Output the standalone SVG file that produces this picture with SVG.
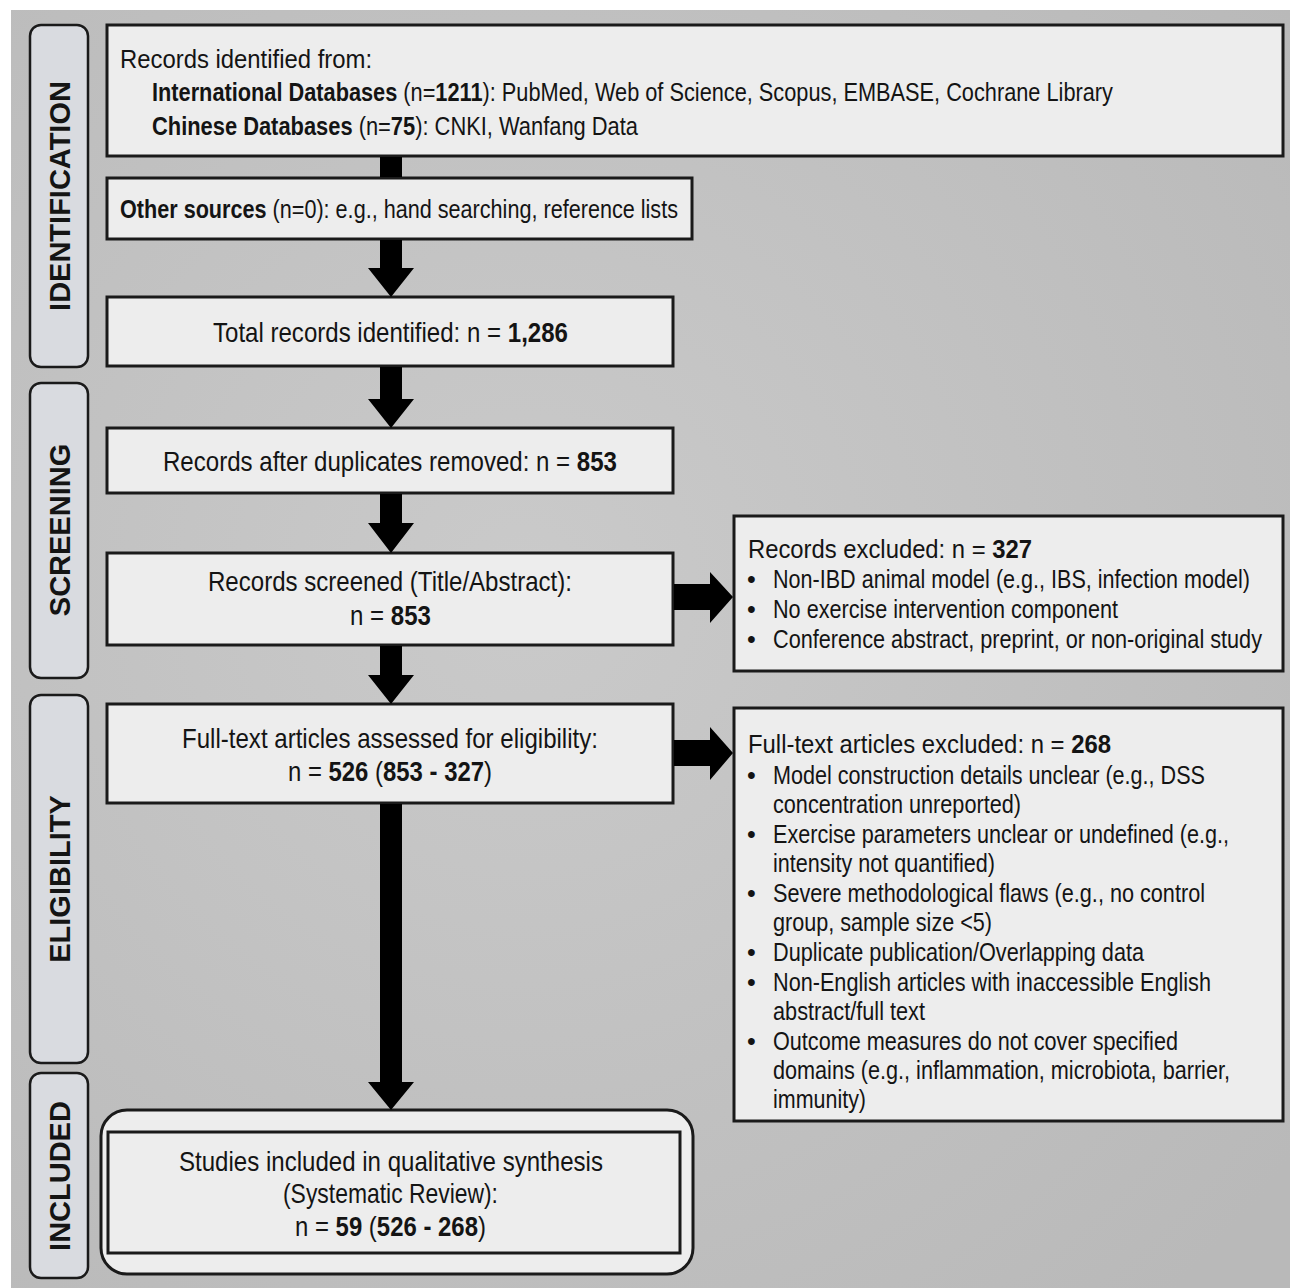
<svg xmlns="http://www.w3.org/2000/svg" width="1290" height="1288" viewBox="0 0 1290 1288">
<defs>
<radialGradient id="bg" cx="0.4" cy="0.45" r="0.75">
<stop offset="0" stop-color="#cacaca"/>
<stop offset="1" stop-color="#b9b9b9"/>
</radialGradient>
<style>
.box{fill:#ededed;stroke:#1a1a1a;stroke-width:3}
.phase{fill:#d9dbe0;stroke:#1a1a1a;stroke-width:2.5}
.pt{font-family:"Liberation Sans",Arial,sans-serif;font-weight:bold;font-size:29px;fill:#141414;text-anchor:middle}
.t{font-family:"Liberation Sans",Arial,sans-serif;fill:#141414}
.b{font-weight:bold}
.arr{fill:#000}
</style>
</defs>
<rect x="0" y="0" width="1290" height="1288" fill="#ffffff"/>
<rect x="11" y="10" width="1279" height="1278" fill="url(#bg)"/>

<g id="phase-identification">
<rect class="phase" x="30" y="25" width="58" height="342" rx="11"/>
<text class="pt" transform="translate(70,196) rotate(-90)">IDENTIFICATION</text>
</g>
<g id="phase-screening">
<rect class="phase" x="30" y="383" width="58" height="295" rx="11"/>
<text class="pt" transform="translate(70,530) rotate(-90)">SCREENING</text>
</g>
<g id="phase-eligibility">
<rect class="phase" x="30" y="695" width="58" height="368" rx="11"/>
<text class="pt" transform="translate(70,879) rotate(-90)">ELIGIBILITY</text>
</g>
<g id="phase-included">
<rect class="phase" x="30" y="1073" width="58" height="205" rx="11"/>
<text class="pt" transform="translate(70,1176) rotate(-90)">INCLUDED</text>
</g>

<g id="records-identified">
<rect class="box" x="107" y="25" width="1176" height="131"/>
<text class="t" font-size="25" transform="translate(120,68) scale(0.88,1)" textLength="286.4" lengthAdjust="spacingAndGlyphs">Records identified from:</text>
<text class="t" font-size="25" transform="translate(152,101) scale(0.88,1)" textLength="1092" lengthAdjust="spacingAndGlyphs"><tspan class="b">International Databases</tspan> (n=<tspan class="b">1211</tspan>): PubMed, Web of Science, Scopus, EMBASE, Cochrane Library</text>
<text class="t" font-size="25" transform="translate(152,135) scale(0.88,1)" textLength="552.3" lengthAdjust="spacingAndGlyphs"><tspan class="b">Chinese Databases</tspan> (n=<tspan class="b">75</tspan>): CNKI, Wanfang Data</text>
</g>

<g id="other-sources">
<rect class="box" x="107" y="178" width="585" height="61"/>
<text class="t" font-size="25" transform="translate(120,218) scale(0.88,1)" textLength="634.1" lengthAdjust="spacingAndGlyphs"><tspan class="b">Other sources</tspan> (n=0): e.g., hand searching, reference lists</text>
</g>

<g id="total-records">
<rect class="box" x="107" y="297" width="566" height="69"/>
<text class="t" font-size="28" transform="translate(213,342) scale(0.85,1)" textLength="417.6" lengthAdjust="spacingAndGlyphs">Total records identified: n = <tspan class="b">1,286</tspan></text>
</g>

<g id="after-duplicates">
<rect class="box" x="107" y="428" width="566" height="65"/>
<text class="t" font-size="28" transform="translate(163,471) scale(0.85,1)" textLength="534.1" lengthAdjust="spacingAndGlyphs">Records after duplicates removed: n = <tspan class="b">853</tspan></text>
</g>

<g id="records-screened">
<rect class="box" x="107" y="553" width="566" height="92"/>
<text class="t" font-size="27" transform="translate(208,591) scale(0.88,1)" textLength="413.6" lengthAdjust="spacingAndGlyphs">Records screened (Title/Abstract):</text>
<text class="t" font-size="27" transform="translate(350,625) scale(0.88,1)" textLength="92" lengthAdjust="spacingAndGlyphs">n = <tspan class="b">853</tspan></text>
</g>

<g id="full-text-assessed">
<rect class="box" x="107" y="704" width="566" height="99"/>
<text class="t" font-size="27" transform="translate(182,748) scale(0.88,1)" textLength="472.7" lengthAdjust="spacingAndGlyphs">Full-text articles assessed for eligibility:</text>
<text class="t" font-size="27" transform="translate(288,781) scale(0.88,1)" textLength="231.8" lengthAdjust="spacingAndGlyphs">n = <tspan class="b">526</tspan> (<tspan class="b">853 - 327</tspan>)</text>
</g>

<g id="studies-included">
<rect class="box" x="101" y="1110" width="592" height="164" rx="26"/>
<rect class="box" x="108" y="1132" width="572" height="121"/>
<text class="t" font-size="27" transform="translate(179,1171) scale(0.88,1)" textLength="481.8" lengthAdjust="spacingAndGlyphs">Studies included in qualitative synthesis</text>
<text class="t" font-size="27" transform="translate(283,1203) scale(0.88,1)" textLength="244.3" lengthAdjust="spacingAndGlyphs">(Systematic Review):</text>
<text class="t" font-size="27" transform="translate(295,1236) scale(0.88,1)" textLength="217" lengthAdjust="spacingAndGlyphs">n = <tspan class="b">59</tspan> (<tspan class="b">526 - 268</tspan>)</text>
</g>

<g id="records-excluded">
<rect class="box" x="734" y="516" width="549" height="155"/>
<text class="t" font-size="26" transform="translate(748,558) scale(0.88,1)" textLength="322.7" lengthAdjust="spacingAndGlyphs">Records excluded: n = <tspan class="b">327</tspan></text>
<text class="t" font-size="25" x="747" y="588">•</text>
<text class="t" font-size="25" transform="translate(773,588) scale(0.88,1)" textLength="542" lengthAdjust="spacingAndGlyphs">Non-IBD animal model (e.g., IBS, infection model)</text>
<text class="t" font-size="25" x="747" y="618">•</text>
<text class="t" font-size="25" transform="translate(773,618) scale(0.88,1)" textLength="392" lengthAdjust="spacingAndGlyphs">No exercise intervention component</text>
<text class="t" font-size="25" x="747" y="648">•</text>
<text class="t" font-size="25" transform="translate(773,648) scale(0.88,1)" textLength="555.7" lengthAdjust="spacingAndGlyphs">Conference abstract, preprint, or non-original study</text>
</g>

<g id="full-text-excluded">
<rect class="box" x="734" y="708" width="549" height="413"/>
<text class="t" font-size="26" transform="translate(748,753) scale(0.88,1)" textLength="412.5" lengthAdjust="spacingAndGlyphs">Full-text articles excluded: n = <tspan class="b">268</tspan></text>
<text class="t" font-size="25" x="747" y="784">•</text>
<text class="t" font-size="25" transform="translate(773,784) scale(0.88,1)" textLength="490.9" lengthAdjust="spacingAndGlyphs">Model construction details unclear (e.g., DSS</text>
<text class="t" font-size="25" transform="translate(773,813) scale(0.88,1)" textLength="281.8" lengthAdjust="spacingAndGlyphs">concentration unreported)</text>
<text class="t" font-size="25" x="747" y="843">•</text>
<text class="t" font-size="25" transform="translate(773,843) scale(0.88,1)" textLength="518.2" lengthAdjust="spacingAndGlyphs">Exercise parameters unclear or undefined (e.g.,</text>
<text class="t" font-size="25" transform="translate(773,872) scale(0.88,1)" textLength="252.3" lengthAdjust="spacingAndGlyphs">intensity not quantified)</text>
<text class="t" font-size="25" x="747" y="902">•</text>
<text class="t" font-size="25" transform="translate(773,902) scale(0.88,1)" textLength="490.9" lengthAdjust="spacingAndGlyphs">Severe methodological flaws (e.g., no control</text>
<text class="t" font-size="25" transform="translate(773,931) scale(0.88,1)" textLength="248.9" lengthAdjust="spacingAndGlyphs">group, sample size &lt;5)</text>
<text class="t" font-size="25" x="747" y="961">•</text>
<text class="t" font-size="25" transform="translate(773,961) scale(0.88,1)" textLength="421.6" lengthAdjust="spacingAndGlyphs">Duplicate publication/Overlapping data</text>
<text class="t" font-size="25" x="747" y="991">•</text>
<text class="t" font-size="25" transform="translate(773,991) scale(0.88,1)" textLength="497.7" lengthAdjust="spacingAndGlyphs">Non-English articles with inaccessible English</text>
<text class="t" font-size="25" transform="translate(773,1020) scale(0.88,1)" textLength="172.7" lengthAdjust="spacingAndGlyphs">abstract/full text</text>
<text class="t" font-size="25" x="747" y="1050">•</text>
<text class="t" font-size="25" transform="translate(773,1050) scale(0.88,1)" textLength="460.2" lengthAdjust="spacingAndGlyphs">Outcome measures do not cover specified</text>
<text class="t" font-size="25" transform="translate(773,1079) scale(0.88,1)" textLength="519.3" lengthAdjust="spacingAndGlyphs">domains (e.g., inflammation, microbiota, barrier,</text>
<text class="t" font-size="25" transform="translate(773,1108) scale(0.88,1)" textLength="105.7" lengthAdjust="spacingAndGlyphs">immunity)</text>
</g>

<g id="connectors">
<rect class="arr" x="380" y="157" width="22" height="20"/>
<polygon class="arr" points="380,240 402,240 402,268 414,268 391,297 368,268 380,268"/>
<polygon class="arr" points="380,367 402,367 402,399 414,399 391,428 368,399 380,399"/>
<polygon class="arr" points="380,494 402,494 402,523 414,523 391,553 368,523 380,523"/>
<polygon class="arr" points="380,646 402,646 402,675 414,675 391,704 368,675 380,675"/>
<polygon class="arr" points="380,804 402,804 402,1082 414,1082 391,1110 368,1082 380,1082"/>
<polygon class="arr" points="674,584 710,584 710,572 733,597 710,623 710,610 674,610"/>
<polygon class="arr" points="674,740 710,740 710,727 733,753 710,780 710,766 674,766"/>
</g>
</svg>
